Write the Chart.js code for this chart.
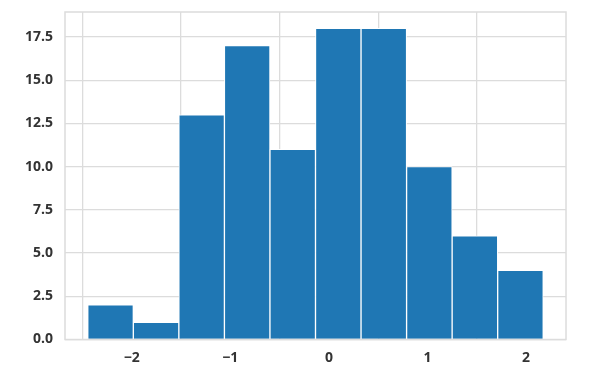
<!DOCTYPE html>
<html>
<head>
<meta charset="utf-8">
<script src="https://cdn.jsdelivr.net/npm/chart.js@4/dist/chart.umd.min.js"></script>
<style>
  html, body { margin: 0; padding: 0; background: #fff; }
  #wrap { width: 610px; height: 381px; }
</style>
</head>
<body>
<div id="wrap"><canvas id="hist"></canvas></div>
<script>
// histogram bins
var binEdges = [-2.446, -1.984, -1.522, -1.060, -0.598, -0.136, 0.326, 0.788, 1.250, 1.712, 2.174];
var counts = [2, 1, 13, 17, 11, 18, 18, 10, 6, 4];
var xTicks = [-2, -1, 0, 1, 2];
var yTicks = [0, 2.5, 5, 7.5, 10, 12.5, 15, 17.5];

var gridColor = '#dcdcdc';
var textColor = '#333333';

var points = [];
for (var i = 0; i < counts.length; i++) {
    points.push({ x: (binEdges[i] + binEdges[i + 1]) / 2, y: counts[i] });
}

// frame round the plot area, like the axes spines
var frame = {
    id: 'frame',
    afterDraw: function(chart) {
        var a = chart.chartArea, ctx = chart.ctx;
        ctx.save();
        ctx.strokeStyle = gridColor;
        ctx.lineWidth = 1.5;
        ctx.strokeRect(a.left, a.top, a.right - a.left, a.bottom - a.top);
        ctx.restore();
    }
};

Chart.defaults.font.family = '"Open Sans", "DejaVu Sans", sans-serif';
Chart.defaults.font.size = 14;
Chart.defaults.font.weight = 'bold';
Chart.defaults.color = textColor;

new Chart(document.getElementById('hist'), {
    type: 'bar',
    data: {
        datasets: [{
            data: points,
            backgroundColor: '#1f77b4',
            borderColor: '#ffffff',
            borderWidth: 1,
            barPercentage: 1,
            categoryPercentage: 1
        }]
    },
    options: {
        responsive: true,
        maintainAspectRatio: false,
        animation: false,
        layout: { padding: { top: 12, right: 44, left: 0, bottom: 0 } },
        plugins: { legend: { display: false }, tooltip: { enabled: false } },
        scales: {
            x: {
                type: 'linear',
                offset: false,
                min: -2.677,
                max: 2.405,
                afterBuildTicks: function(scale) {
                    scale.ticks = xTicks.map(function(v) { return { value: v }; });
                },
                afterFit: function(scale) {
                    scale.height = 41.5;
                    scale.paddingLeft = 0;
                    scale.paddingRight = 0;
                },
                grid: { color: gridColor, lineWidth: 1.3, drawTicks: false },
                border: { display: false },
                ticks: {
                    padding: 10,
                    callback: function(v) { return v < 0 ? '\u2212' + Math.abs(v) : String(v); }
                }
            },
            y: {
                min: 0,
                max: 18.95,
                afterBuildTicks: function(scale) {
                    scale.ticks = yTicks.map(function(v) { return { value: v }; });
                },
                afterFit: function(scale) {
                    scale.width = 65;
                    scale.paddingTop = 0;
                    scale.paddingBottom = 0;
                },
                grid: { color: gridColor, lineWidth: 1.3, drawTicks: false },
                border: { display: false },
                ticks: {
                    padding: 12,
                    callback: function(v) { return v.toFixed(1); }
                }
            }
        }
    },
    plugins: [frame]
});
</script>
</body>
</html>
